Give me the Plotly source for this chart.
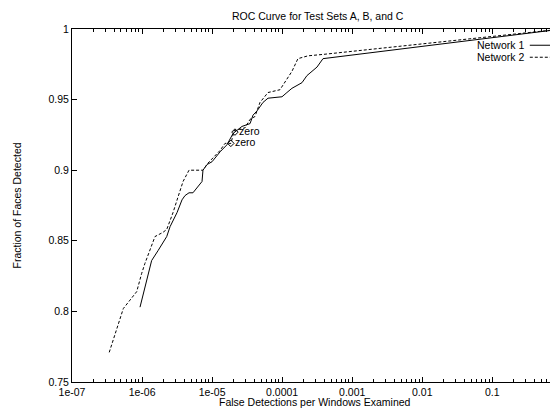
import plotly.graph_objects as go

# Network 1 (solid)
net1_x = [9.35e-7, 1.37e-6, 1.69e-6, 2.25e-6, 2.51e-6, 3.16e-6, 3.72e-6, 4.10e-6, 4.68e-6, 5.33e-6,
          7.18e-6, 7.41e-6, 8.45e-6, 9.98e-6, 1.30e-5, 1.63e-5, 1.99e-5, 2.67e-5, 3.48e-5, 3.84e-5,
          4.38e-5, 5.33e-5, 6.28e-5, 9.95e-5, 1.17e-4, 1.38e-4, 1.63e-4, 1.92e-4, 2.26e-4, 2.67e-4,
          3.14e-4, 3.83e-4, 1.0]
net1_y = [0.803, 0.836, 0.843, 0.853, 0.860, 0.870, 0.879, 0.882, 0.884, 0.884,
          0.892, 0.900, 0.904, 0.906, 0.913, 0.918, 0.926, 0.931, 0.933, 0.939,
          0.942, 0.948, 0.951, 0.952, 0.955, 0.958, 0.960, 0.962, 0.967, 0.970,
          0.973, 0.979, 1.0]

# Network 2 (dashed)
net2_x = [3.40e-7, 5.40e-7, 6.73e-7, 8.39e-7, 9.89e-7, 1.10e-6, 1.53e-6, 1.99e-6, 2.25e-6, 2.77e-6,
          3.26e-6, 3.85e-6, 4.68e-6, 7.41e-6, 8.73e-6, 1.03e-5, 1.30e-5, 1.53e-5, 1.86e-5, 2.06e-5,
          2.95e-5, 3.48e-5, 4.09e-5, 4.83e-5, 6.28e-5, 9.31e-5, 1.17e-4, 1.38e-4, 1.68e-4, 2.34e-4,
          3.83e-4, 1.0]
net2_y = [0.771, 0.802, 0.808, 0.814, 0.827, 0.834, 0.853, 0.856, 0.858, 0.870,
          0.881, 0.892, 0.900, 0.900, 0.905, 0.909, 0.914, 0.919, 0.919, 0.928,
          0.930, 0.936, 0.938, 0.948, 0.955, 0.957, 0.965, 0.970, 0.979, 0.981,
          0.982, 1.0]

# "zero" threshold points
zero_x = [2.12e-5, 1.85e-5]
zero_y = [0.927, 0.919]

x_ticks = [1e-7, 1e-6, 1e-5, 1e-4, 1e-3, 1e-2, 1e-1]
x_labels = ["1e-07", "1e-06", "1e-05", "0.0001", "0.001", "0.01", "0.1"]
y_ticks = [0.75, 0.8, 0.85, 0.9, 0.95, 1.0]
y_labels = ["0.75", "0.8", "0.85", "0.9", "0.95", "1"]

# log minor ticks 2..9 in each decade
x_minor = [m * 10.0 ** e for e in range(-7, 0) for m in range(2, 10)]

font = dict(family="Liberation Sans, Arial, sans-serif", size=10.5, color="black")

fig = go.Figure()
fig.add_trace(go.Scatter(x=net1_x, y=net1_y, mode="lines", name="Network 1",
                         line=dict(color="black", width=1)))
fig.add_trace(go.Scatter(x=net2_x, y=net2_y, mode="lines", name="Network 2",
                         line=dict(color="black", width=1, dash="3px,2px")))
fig.add_trace(go.Scatter(x=zero_x, y=zero_y, mode="markers+text", text=["zero", "zero"],
                         textposition="middle right", textfont=font,
                         marker=dict(symbol="diamond-open", size=5, color="black",
                                     line=dict(width=1))))

# legend drawn gnuplot style: text then line sample
fig.add_annotation(xref="paper", yref="paper", x=0.934, y=0.954, text="Network 1",
                   showarrow=False, xanchor="right", yanchor="middle", font=font)
fig.add_annotation(xref="paper", yref="paper", x=0.934, y=0.92, text="Network 2",
                   showarrow=False, xanchor="right", yanchor="middle", font=font)
fig.add_shape(type="line", xref="paper", yref="paper", x0=0.942, x1=0.985, y0=0.954, y1=0.954,
              line=dict(color="black", width=1))
fig.add_shape(type="line", xref="paper", yref="paper", x0=0.942, x1=0.985, y0=0.92, y1=0.92,
              line=dict(color="black", width=1, dash="3px,2px"))

# axis titles
fig.add_annotation(xref="paper", yref="paper", x=0.5, y=-0.0567,
                   text="False Detections per Windows Examined",
                   showarrow=False, xanchor="center", yanchor="middle", font=font)
fig.add_annotation(xref="paper", yref="paper", x=0, xshift=-56, y=0.5, text="Fraction of Faces Detected",
                   showarrow=False, textangle=-90, xanchor="center", yanchor="middle", font=font)

# page body has an 8px margin, so the figure is 8px smaller than the window
fig.update_layout(
    width=550, height=400,
    margin=dict(l=64, r=0, t=21, b=26),
    paper_bgcolor="white", plot_bgcolor="white",
    showlegend=False,
    font=font,
    title=dict(text="ROC Curve for Test Sets A, B, and C", x=0.563, xanchor="center",
               y=0.978, yanchor="middle", font=font),
    xaxis=dict(type="log", range=[-7, -0.062], tickvals=x_ticks, ticktext=x_labels,
               showgrid=False, zeroline=False, showline=True, linecolor="black", linewidth=1,
               mirror="ticks", ticks="inside", ticklen=5, tickcolor="black",
               minor=dict(ticks="inside", ticklen=3, tickcolor="black", tickvals=x_minor)),
    yaxis=dict(range=[0.75, 1.0], tickvals=y_ticks, ticktext=y_labels,
               showgrid=False, zeroline=False, showline=True, linecolor="black", linewidth=1,
               mirror="ticks", ticks="inside", ticklen=5, tickcolor="black"),
)

fig.write_html("out.html")
